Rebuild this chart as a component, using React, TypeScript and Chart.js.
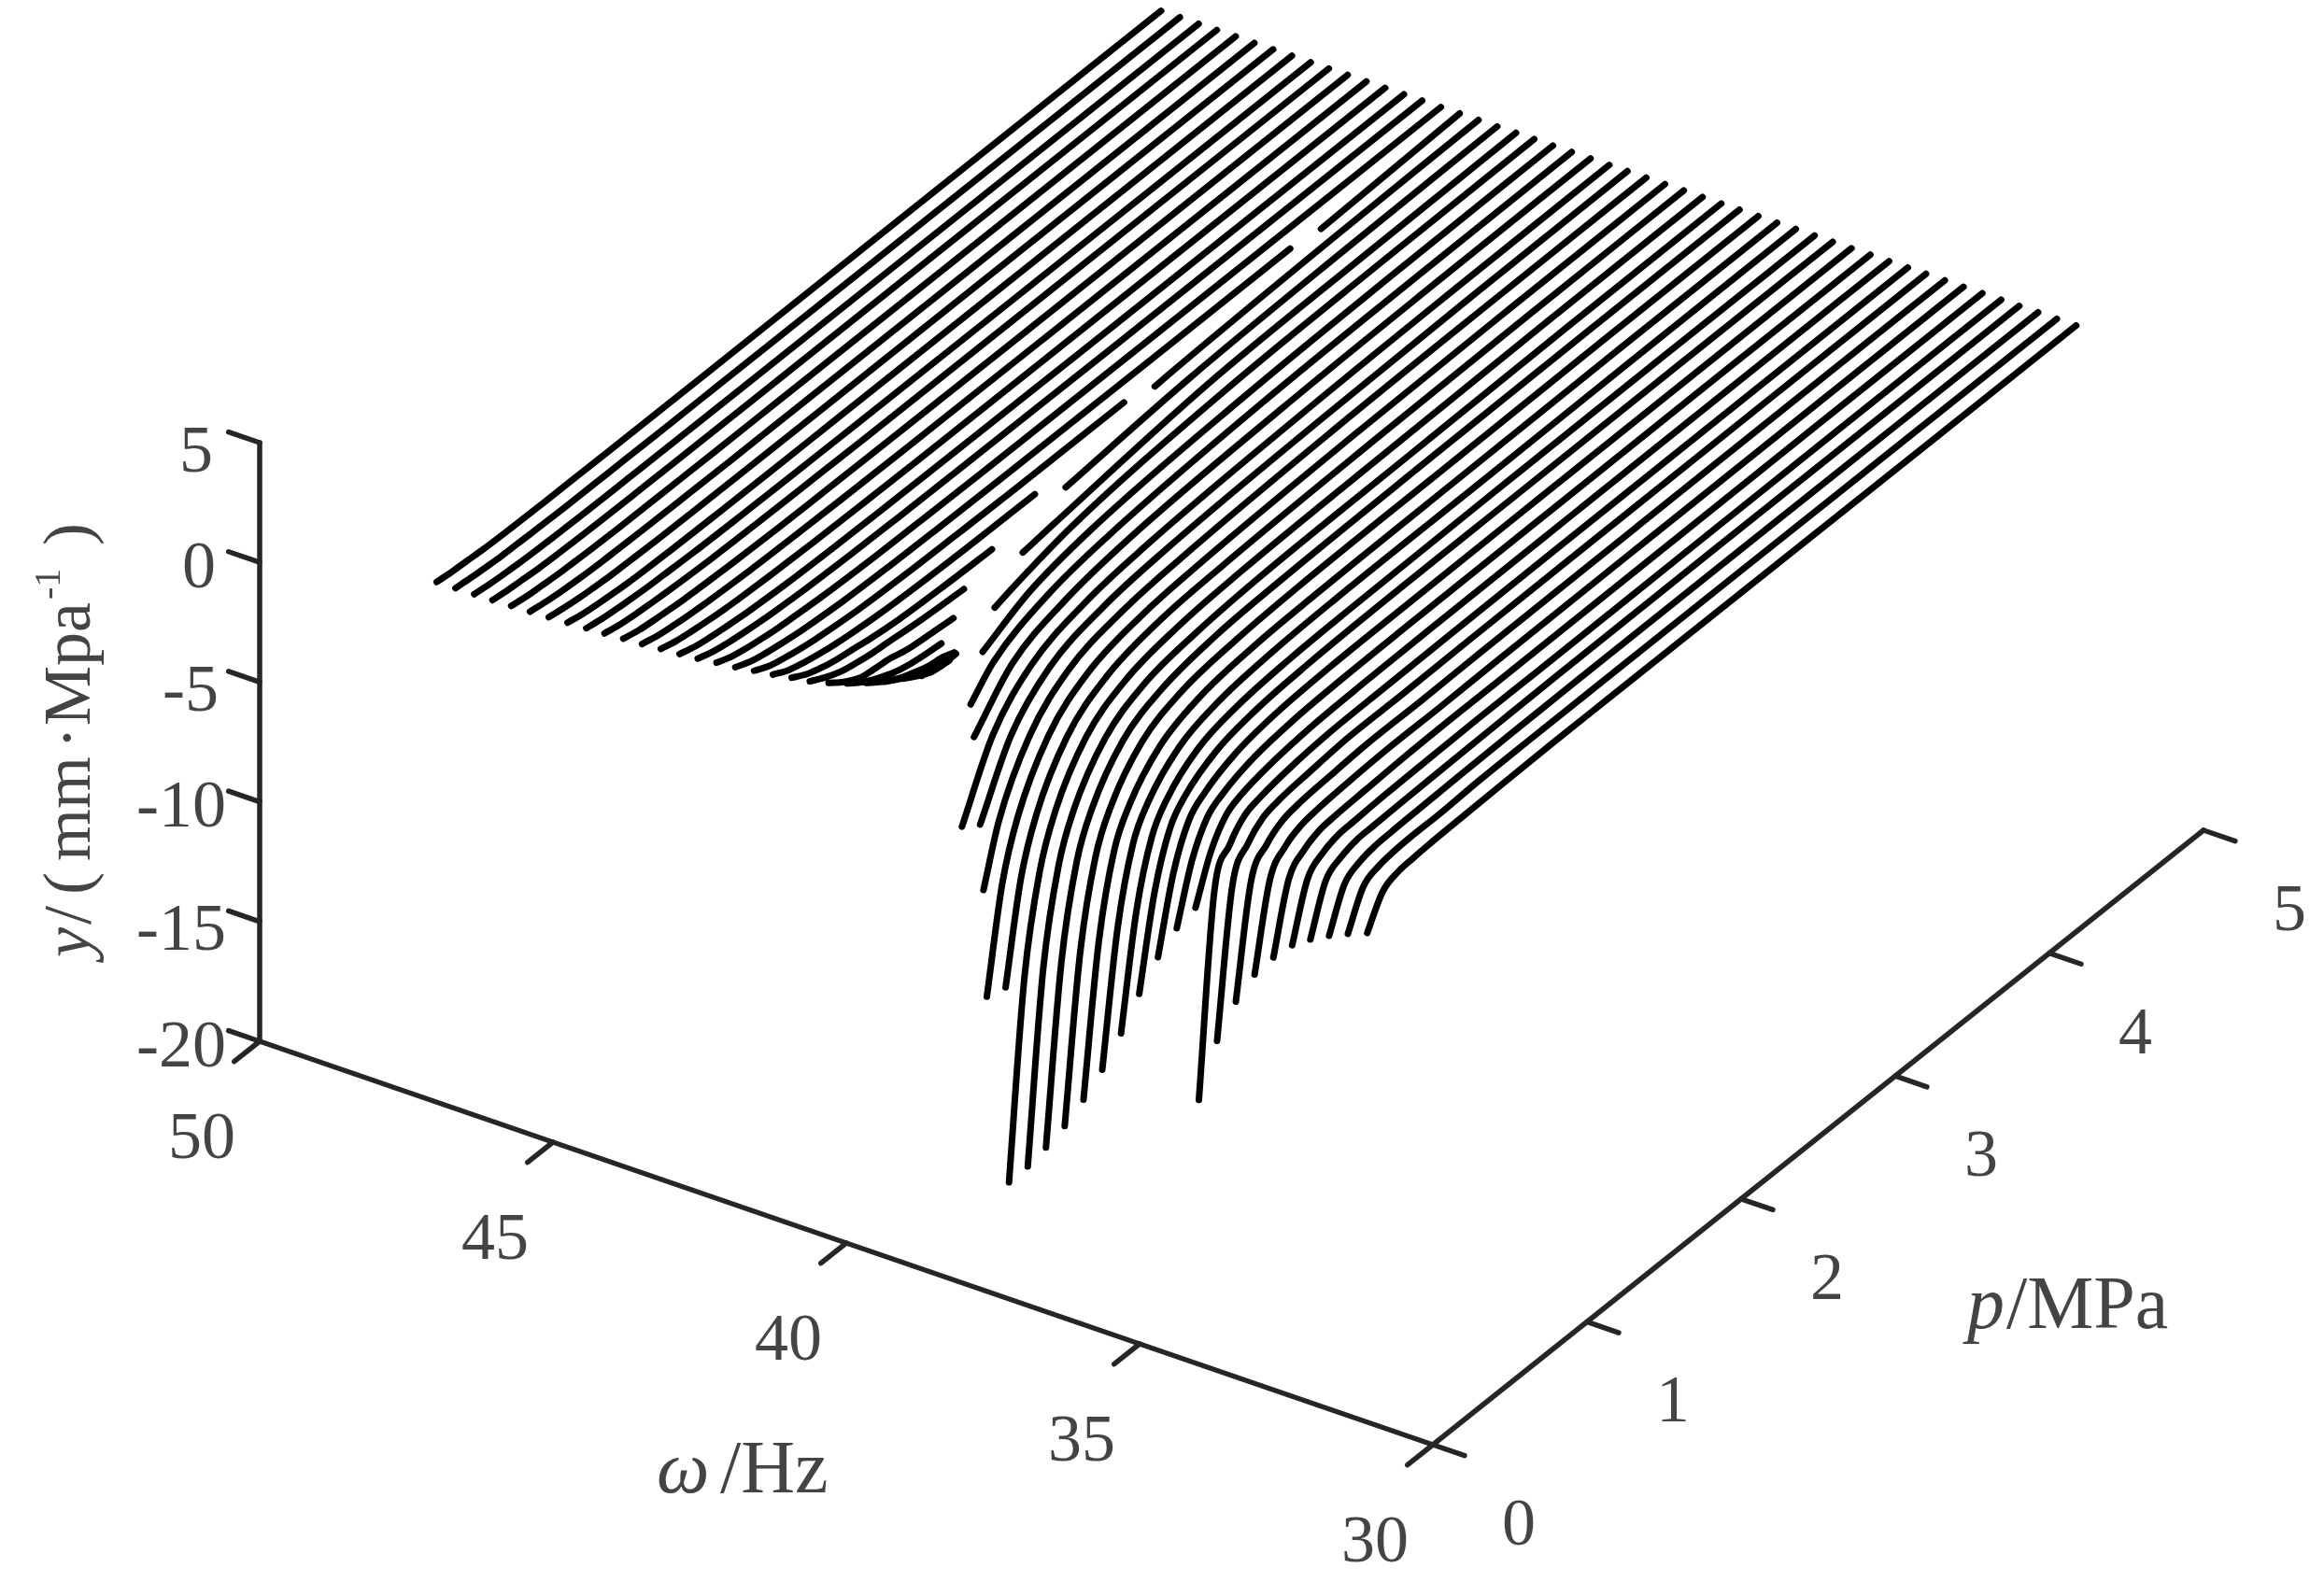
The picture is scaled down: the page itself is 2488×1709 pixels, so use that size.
import React, { useEffect, useRef } from "react";
import { Chart, registerables } from "chart.js";

Chart.register(...registerables);

const _ = null;

// Frequency of each curve, Hz
const omegaHz = [
  47.77, 47.45, 47.13, 46.82, 46.5, 46.18, 45.86, 45.54, 45.22, 44.91,
  44.59, 44.27, 43.95, 43.63, 43.32, 43.0, 42.68, 42.36, 42.04, 41.72,
  41.41, 41.09, 40.77, 40.45, 40.13, 39.82, 39.5, 39.18, 38.86, 38.54,
  38.22, 37.91, 37.59, 37.27, 36.95, 36.63, 36.32, 36.0, 35.68, 35.36,
  35.04, 34.73, 34.41, 34.09, 33.77, 33.45, 33.14, 32.82, 32.5, 32.17,
];

// Branch below the break: pressures and response per curve
const lowP = [0.3, 0.4, 0.5, 0.6, 0.7, 0.8, 1, 1.3, 1.6, 2, 3, 5];
const lowY: number[][] = [
  [-0.48, -0.56, -0.61, -0.66, -0.69, -0.71, -0.73, -0.74, -0.75, -0.75, -0.75, -0.75],
  [-0.47, -0.55, -0.61, -0.66, -0.68, -0.7, -0.73, -0.74, -0.75, -0.75, -0.75, -0.75],
  [-0.45, -0.54, -0.6, -0.65, -0.68, -0.7, -0.73, -0.74, -0.75, -0.75, -0.75, -0.75],
  [-0.44, -0.53, -0.59, -0.65, -0.68, -0.7, -0.73, -0.74, -0.75, -0.75, -0.75, -0.75],
  [-0.41, -0.52, -0.58, -0.64, -0.67, -0.7, -0.73, -0.74, -0.75, -0.75, -0.75, -0.75],
  [-0.38, -0.49, -0.57, -0.63, -0.67, -0.69, -0.72, -0.74, -0.75, -0.75, -0.75, -0.75],
  [-0.34, -0.46, -0.55, -0.61, -0.66, -0.68, -0.72, -0.74, -0.75, -0.75, -0.75, -0.75],
  [-0.3, -0.44, -0.53, -0.6, -0.65, -0.68, -0.72, -0.74, -0.75, -0.75, -0.75, -0.75],
  [-0.26, -0.39, -0.47, -0.53, -0.58, -0.61, -0.67, -0.71, -0.73, -0.74, -0.75, -0.75],
  [-0.22, -0.36, -0.45, -0.51, -0.56, -0.6, -0.66, -0.7, -0.72, -0.74, -0.75, -0.75],
  [-0.17, -0.33, -0.42, -0.49, -0.55, -0.59, -0.65, -0.7, -0.72, -0.74, -0.75, -0.75],
  [-0.12, -0.29, -0.39, -0.47, -0.53, -0.57, -0.64, -0.69, -0.72, -0.74, -0.75, -0.75],
  [-0.06, -0.24, -0.35, -0.44, -0.51, -0.56, -0.63, -0.69, -0.72, -0.74, -0.75, -0.75],
  [0.0, -0.2, -0.32, -0.41, -0.49, -0.54, -0.62, -0.68, -0.71, -0.73, -0.75, -0.75],
  [0.07, -0.15, -0.28, -0.38, -0.46, -0.52, -0.61, -0.68, -0.71, -0.73, -0.75, -0.75],
  [0.17, -0.08, -0.23, -0.34, -0.43, -0.49, -0.59, -0.67, -0.7, -0.73, -0.75, -0.75],
  [0.25, -0.02, -0.18, -0.3, -0.4, -0.47, -0.58, -0.66, -0.7, -0.73, -0.75],
  [0.37, 0.06, -0.11, -0.25, -0.36, -0.44, -0.56, -0.65, -0.69, -0.73],
  [0.48, 0.15, -0.05, -0.2, -0.32, -0.41, -0.54, -0.64, -0.69],
  [0.62, 0.26, 0.03, -0.13, -0.24, -0.36, -0.52, -0.63, -0.69],
  [0.73, 0.38, 0.11, -0.05, -0.17, -0.24, -0.4, -0.55],
  [0.93, 0.46, 0.11, -0.01, -0.1, -0.28, -0.44],
  [1.18, 0.73, 0.38, 0.09, -0.09, -0.2],
  [1.47, 1.01, 0.62, 0.34, 0.11, -0.01],
  [1.79, 1.4, 1.04, 0.65, 0.58],
  [2.18, 1.79, 1.51, 1.4],
  [2.57, 2.41, 2.35],
  [3.23, 3.25],
];
// Last point of a lower branch when it falls between grid pressures
const lowEnd: Record<number, number[]> = {
  16: [3.9, -0.75],
  17: [2.7, -0.74],
  18: [2, -0.71],
  21: [1.11, -0.52],
  22: [0.91, -0.28],
  23: [0.87, -0.18],
};

// Branch above the break, curves 16 to 49
const highFirstCurve = 16;
const highP = [0.4, 0.5, 0.6, 0.7, 0.8, 1, 1.25, 1.6, 2, 3, 4, 5];
const highY: (number | null)[][] = [
  [_, _, _, _, _, _, _, _, _, _, _, -0.75],
  [_, _, _, _, _, _, _, _, _, -1.06, -0.85, -0.75],
  [_, _, _, _, _, _, _, _, _, -1.02, -0.83, -0.75],
  [_, _, _, _, _, _, _, _, -1.69, -0.98, -0.82, -0.75],
  [_, _, _, _, _, _, _, -2.15, -1.53, -0.95, -0.8, -0.75],
  [_, _, _, _, _, _, _, -1.96, -1.41, -0.95, -0.8, -0.75],
  [_, _, _, _, _, _, -2.78, -1.8, -1.34, -0.91, -0.79, -0.75],
  [_, _, _, _, _, -4.38, -2.58, -1.69, -1.26, -0.91, -0.79, -0.75],
  [_, _, _, _, -6.83, -4.03, -2.39, -1.57, -1.22, -0.91, -0.79, -0.75],
  [_, _, _, _, -6.48, -3.79, -2.23, -1.49, -1.18, -0.91, -0.79, -0.75],
  [_, _, _, -8.43, -6.05, -3.52, -2.08, -1.41, -1.14, -0.87, -0.78, -0.75],
  [_, _, -12.1, -7.89, -5.63, -3.25, -1.96, -1.34, -1.1, -0.87, -0.78, -0.75],
  [_, _, -11.44, -7.38, -5.24, -3.01, -1.84, -1.26, -1.06, -0.87, -0.78, -0.75],
  [_, -18.8, -10.77, -6.83, -4.85, -2.78, -1.73, -1.22, -1.02, -0.87, -0.78, -0.75],
  [_, -17.87, -10.15, -6.33, -4.49, -2.58, -1.61, -1.18, -0.98, -0.87, -0.78, -0.75],
  [_, -16.82, -9.6, -5.9, -4.18, -2.39, -1.53, -1.1, -0.95, -0.83, -0.77, -0.75],
  [_, -15.65, -8.94, -5.43, -3.83, -2.19, -1.41, -1.06, -0.91, -0.83, -0.77, -0.75],
  [_, -14.28, -8.16, -4.88, -3.48, -2.04, -1.34, -1.02, -0.91, -0.83, -0.77, -0.75],
  [_, -12.76, -7.34, -4.34, -3.09, -1.84, -1.26, -0.98, -0.87, -0.83, -0.77, -0.75],
  [_, -10.97, -6.37, -3.79, -2.7, -1.65, -1.18, -0.95, -0.87, -0.79, -0.76, -0.75],
  [_, -9.06, -5.31, -3.17, -2.31, -1.49, -1.1, -0.91, -0.83, -0.79, -0.76, -0.75],
  [_, -7.26, -4.26, -2.58, -1.96, -1.34, -1.02, -0.87, -0.83, -0.79, -0.76, -0.75],
  [_, -5.78, -3.44, -2.15, -1.69, -1.22, -0.98, -0.87, -0.83, -0.79, -0.76, -0.75],
  [_, -4.65, -2.82, -1.8, -1.45, -1.14, -0.95, -0.87, -0.83, -0.79, -0.76, -0.75],
  [-11.9, -3.71, -2.27, -1.53, -1.3, -1.06, -0.91, -0.87, -0.83, -0.79, -0.76, -0.75],
  [-9.17, -3.17, -1.96, -1.37, -1.18, -1.02, -0.87, -0.87, -0.83, -0.79, -0.76, -0.75],
  [-7.26, -2.7, -1.73, -1.26, -1.1, -0.98, -0.87, -0.87, -0.83, -0.79, -0.76, -0.75],
  [-5.86, -2.39, -1.53, -1.18, -1.06, -0.95, -0.87, -0.87, -0.83, -0.79, -0.76, -0.75],
  [-4.88, -2.12, -1.41, -1.1, -1.02, -0.95, -0.87, -0.83, -0.83, -0.79, -0.76, -0.75],
  [-4.1, -1.84, -1.26, -1.02, -0.98, -0.91, -0.87, -0.83, -0.83, -0.79, -0.76, -0.75],
  [-3.6, -1.65, -1.18, -0.98, -0.95, -0.91, -0.87, -0.83, -0.79, -0.76, -0.75, -0.75],
  [-3.17, -1.53, -1.1, -0.95, -0.91, -0.87, -0.83, -0.79, -0.77, -0.75, -0.75, -0.75],
  [-2.82, -1.37, -1.02, -0.91, -0.87, -0.87, -0.79, -0.77, -0.76, -0.75, -0.75, -0.75],
  [-2.51, -1.3, -0.98, -0.91, -0.87, -0.83, -0.79, -0.75, -0.75, -0.75, -0.75, -0.75],
];
// First point of an upper branch when it falls between grid pressures
const highStart: Record<number, number[]> = {
  16: [4.1, -0.95],
  17: [2.9, -1.1],
  18: [2.2, -1.45],
  19: [1.8, -1.85],
  20: [1.5, -2.35],
  21: [1.3, -2.9],
  22: [1.1, -3.8],
};

// Axis ticks
const yTicks = [5, 0, -5, -10, -15, -20];
const omegaTicks = [50, 45, 40, 35, 30];
const pTicks = [0, 1, 2, 3, 4, 5];

// Oblique view of the (omega, p, y) box on the plane
const view = {
  x0: 278, y0: 1115,
  xPerHz: 62.8, yPerHz: 21.6,
  xPerMPa: 165, yPerMPa: 131.6,
  yPerUnit: 25.64,
};
const project = (w: number, p: number, y: number) => ({
  x: view.x0 + (50 - w) * view.xPerHz + p * view.xPerMPa,
  y: view.y0 + (50 - w) * view.yPerHz - p * view.yPerMPa - (y + 20) * view.yPerUnit,
});

const SERIF = '"Liberation Serif", serif';
const TEXT = "#444444";
const AXIS = "#262626";

const curveStyle = {
  showLine: true, pointRadius: 0, borderColor: "#000000", borderWidth: 7,
  borderCapStyle: "round", borderJoinStyle: "round", cubicInterpolationMode: "monotone", clip: false,
};
const axisStyle = {
  showLine: true, pointRadius: 0, borderColor: AXIS, borderWidth: 5.5,
  borderCapStyle: "round", borderJoinStyle: "round", tension: 0, clip: false,
};

function buildDatasets() {
  const sets: any[] = [];
  omegaHz.forEach((w, i) => {
    const low = (lowY[i] || []).map((y, k) => project(w, lowP[k], y));
    if (lowEnd[i]) low.push(project(w, lowEnd[i][0], lowEnd[i][1]));
    if (low.length) sets.push({ ...curveStyle, data: low });
    const row = highY[i - highFirstCurve];
    if (row) {
      const high: { x: number; y: number }[] = [];
      if (highStart[i]) high.push(project(w, highStart[i][0], highStart[i][1]));
      row.forEach((y, k) => { if (y !== null) high.push(project(w, highP[k], y)); });
      sets.push({ ...curveStyle, data: high });
    }
  });
  const seg = (a: any, b: any) => sets.push({ ...axisStyle, data: [a, b] });
  seg(project(50, 0, -20), project(50, 0, 5));
  seg(project(50, 0, -20), project(30, 0, -20));
  seg(project(30, 0, -20), project(30, 5, -20));
  yTicks.forEach((t) => seg(project(50, 0, t), project(50.53, 0, t)));
  omegaTicks.forEach((t) => seg(project(t, 0, -20), project(t, -0.165, -20)));
  pTicks.forEach((t) => seg(project(30, t, -20), project(29.46, t, -20)));
  return sets;
}

const yTitlePieces = [
  { t: "y", at: 1025, italic: true, size: 72, lift: 0 },
  { t: "/", at: 990, italic: false, size: 72, lift: 0 },
  { t: "(", at: 958, italic: false, size: 72, lift: 0 },
  { t: "mm", at: 922, italic: false, size: 72, lift: 0 },
  { t: "\u00B7", at: 802, italic: false, size: 72, lift: 0 },
  { t: "Mpa", at: 777, italic: false, size: 72, lift: 0 },
  { t: "-1", at: 642, italic: false, size: 40, lift: 32 },
  { t: ")", at: 584, italic: false, size: 72, lift: 0 },
];

// Baseline of each y tick label and its right edge
const yLabelBaseline = [505, 629, 761, 885, 1017, 1142];
const yLabelRight = [228, 231, 234, 242, 242, 242];

const textPlugin = {
  id: "boxText",
  afterDatasetsDraw(chart: any) {
    const { ctx, scales } = chart;
    const px = (v: number) => scales.x.getPixelForValue(v);
    const py = (v: number) => scales.y.getPixelForValue(v);
    ctx.save();
    ctx.fillStyle = TEXT;
    ctx.textBaseline = "alphabetic";

    ctx.font = `72px ${SERIF}`;
    ctx.textAlign = "right";
    yTicks.forEach((t, k) => {
      ctx.fillText(String(t), px(yLabelRight[k]), py(yLabelBaseline[k]));
    });
    ctx.textAlign = "center";
    omegaTicks.forEach((t) => {
      const a = project(t, 0, -20);
      ctx.fillText(String(t), px(a.x - 62), py(a.y + 125));
    });
    pTicks.forEach((t) => {
      const a = project(30, t, -20);
      ctx.fillText(String(t), px(a.x + 92), py(a.y + 107));
    });

    ctx.textAlign = "left";
    ctx.font = `italic 80px ${SERIF}`;
    ctx.fillText("p", px(2106), py(1422));
    ctx.font = `80px ${SERIF}`;
    ctx.fillText("/MPa", px(2148), py(1422));

    ctx.font = `italic 80px ${SERIF}`;
    ctx.fillText("\u03C9", px(703), py(1598));
    ctx.font = `80px ${SERIF}`;
    ctx.fillText("/Hz", px(771), py(1598));

    ctx.save();
    ctx.translate(px(96), 0);
    ctx.rotate(-Math.PI / 2);
    yTitlePieces.forEach((s) => {
      ctx.font = `${s.italic ? "italic " : ""}${s.size}px ${SERIF}`;
      ctx.fillText(s.t, -py(s.at), -s.lift);
    });
    ctx.restore();
    ctx.restore();
  },
};

export default function App() {
  const ref = useRef<HTMLCanvasElement>(null);
  useEffect(() => {
    const chart = new Chart(ref.current as HTMLCanvasElement, {
      type: "scatter",
      data: { datasets: buildDatasets() },
      options: {
        animation: false,
        responsive: false,
        devicePixelRatio: 1,
        layout: { padding: 0 },
        plugins: { legend: { display: false }, tooltip: { enabled: false }, title: { display: false } },
        scales: {
          x: { type: "linear", display: false, min: 0, max: 2488 },
          y: { type: "linear", display: false, min: 0, max: 1709, reverse: true },
        },
      },
      plugins: [textPlugin],
    } as any);
    return () => chart.destroy();
  }, []);
  return (
    <canvas
      ref={ref}
      width={2488}
      height={1709}
      style={{ position: "absolute", left: 0, top: 0, display: "block", background: "#ffffff" }}
    />
  );
}
